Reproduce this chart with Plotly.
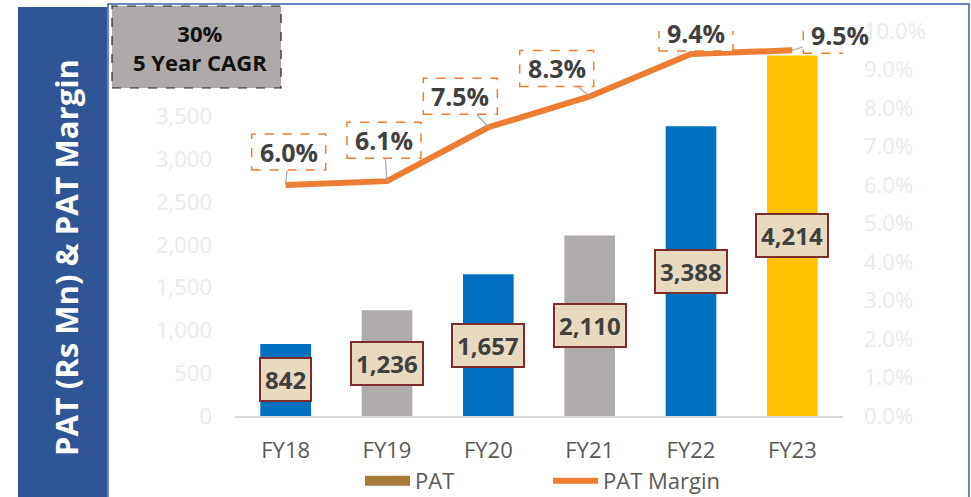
import plotly.graph_objects as go

categories = ["FY18", "FY19", "FY20", "FY21", "FY22", "FY23"]
pat = [842, 1236, 1657, 2110, 3388, 4214]
pat_margin = [6.0, 6.1, 7.5, 8.3, 9.4, 9.5]
bar_colors = ["#0070C0", "#AFABAB", "#0070C0", "#AFABAB", "#0070C0", "#FFC000"]
left_ticks = [0, 500, 1000, 1500, 2000, 2500, 3000, 3500]
right_ticks = [0, 1, 2, 3, 4, 5, 6, 7, 8, 9, 10]
right_tick_labels = [f"{v:.1f}%" for v in right_ticks]
cagr_text = "30%<br>5 Year CAGR"
title_text = "PAT (Rs Mn) & PAT Margin"

FONT = "Open Sans"
W, H = 971, 497
L, R, T, B = 235, 128, 31, 81
PW, PH = W - L - R, H - T - B


def px(x):
    return (x - L) / PW


def py(y):
    return (H - B - y) / PH


fig = go.Figure()
fig.add_trace(go.Bar(x=categories, y=pat, marker=dict(color=bar_colors, line=dict(width=0)),
                     width=0.5, showlegend=False, name="PAT", hoverinfo="x+y"))
fig.add_trace(go.Scatter(x=[None], y=[None], mode="lines", line=dict(color="#A67C3A", width=13),
                         name="PAT"))
fig.add_trace(go.Scatter(x=categories, y=pat_margin, yaxis="y2", mode="lines",
                         line=dict(color="#ED7D31", width=6), name="PAT Margin"))

shapes = []
annotations = []

# bar value labels centred in bars
for c, v in zip(categories, pat):
    annotations.append(dict(x=c, y=v / 2, xref="x", yref="y", text=f"<b>{v:,}</b>",
                            showarrow=False, font=dict(family=FONT, size=24, color="#404040"),
                            bgcolor="#E8DAC0", bordercolor="#7B2D2D", borderwidth=2, borderpad=4))

# margin labels with dashed boxes and leader lines
offsets = [(3, -33), (-3, -41), (-28, -31), (-33, -28), (5, -21), (48, -15)]
for c, v, (ax, ay) in zip(categories, pat_margin, offsets):
    shapes.append(dict(type="rect", xref="x", yref="y2", xsizemode="pixel", ysizemode="pixel",
                       xanchor=c, yanchor=v, x0=ax - 37, x1=ax + 37, y0=-ay - 18, y1=-ay + 18,
                       line=dict(color="#ED7D31", width=1.5, dash="dash"), fillcolor="white",
                       layer="above"))
    annotations.append(dict(x=c, y=v, xref="x", yref="y2", text=f"<b>{v:.1f}%</b>",
                            showarrow=True, arrowhead=0, arrowwidth=1.2, arrowcolor="#A6A6A6",
                            ax=ax, ay=ay, width=72, height=34, standoff=0,
                            font=dict(family=FONT, size=25, color="#404040")))

# left blue band with title
shapes.append(dict(type="rect", xref="paper", yref="paper", x0=px(18), x1=px(107),
                   y0=py(500), y1=py(7), fillcolor="#2F5597", line=dict(width=0), layer="below"))
annotations.append(dict(xref="paper", yref="paper", x=px(66), y=py(258), text=f"<b>{title_text}</b>",
                        textangle=-90, showarrow=False, xanchor="center", yanchor="middle",
                        font=dict(family=FONT, size=31, color="white")))
# chart frame
shapes.append(dict(type="rect", xref="paper", yref="paper", x0=px(108), x1=px(969),
                   y0=py(505), y1=py(4), line=dict(color="#3A5FAF", width=1.5), layer="below"))
# CAGR box
shapes.append(dict(type="rect", xref="paper", yref="paper", x0=px(112), x1=px(281),
                   y0=py(88), y1=py(6), fillcolor="#AEAAAA",
                   line=dict(color="#222222", width=1.2, dash="dash"), layer="above"))
annotations.append(dict(xref="paper", yref="paper", x=px(200), y=py(47), text=f"<b>{cagr_text}</b>",
                        showarrow=False, xanchor="center", yanchor="middle",
                        font=dict(family=FONT, size=22, color="#111111")))

fig.update_layout(
    width=W, height=H, margin=dict(l=L, r=R, t=T, b=B, autoexpand=False),
    paper_bgcolor="white", plot_bgcolor="white",
    font=dict(family=FONT, size=22, color="#595959"),
    xaxis=dict(range=[-0.5, 5.5], showgrid=False, showline=True, linecolor="#D9D9D9",
               linewidth=1.5, ticks="", ticklabelstandoff=14, automargin=False,
               tickfont=dict(size=22, color="#595959")),
    yaxis=dict(range=[0, 4500], tickvals=left_ticks, tickformat=",d", showgrid=False,
               zeroline=False, ticks="", ticklabelstandoff=22, automargin=False,
               tickfont=dict(size=22, color="#EBEBEB")),
    yaxis2=dict(range=[0, 10], overlaying="y", side="right", tickvals=right_ticks,
                ticktext=right_tick_labels, showgrid=False, zeroline=False, ticks="",
                ticklabelstandoff=20, automargin=False,
                tickfont=dict(size=22, color="#EBEBEB")),
    legend=dict(orientation="h", x=px(360), xanchor="left", y=py(481), yanchor="middle",
                font=dict(size=22, color="#595959"), itemwidth=45, entrywidth=128,
                bgcolor="rgba(0,0,0,0)"),
    shapes=shapes, annotations=annotations,
)

fig.write_html("out.html", config={"displayModeBar": False},
               post_script="document.body.style.margin='0';")
